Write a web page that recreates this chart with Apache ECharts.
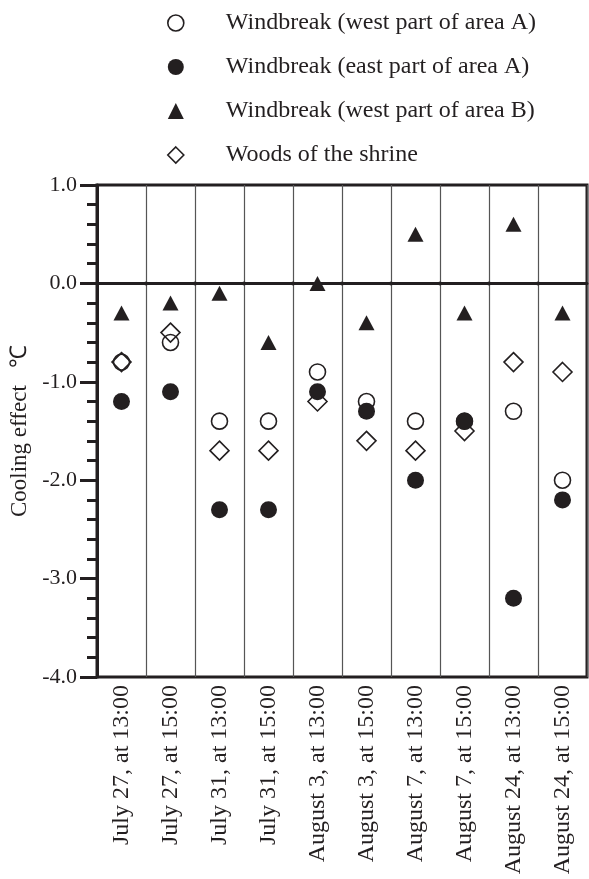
<!DOCTYPE html>
<html>
<head>
<meta charset="utf-8">
<script src="https://cdn.jsdelivr.net/npm/echarts@6/dist/echarts.min.js"></script>
<style>
html,body{margin:0;padding:0;background:#fff;}
#chart{width:589px;height:879px;}
</style>
</head>
<body>
<div id="chart"></div>
<script>
var categories = ["July 27, at 13:00","July 27, at 15:00","July 31, at 13:00","July 31, at 15:00","August 3, at 13:00","August 3, at 15:00","August 7, at 13:00","August 7, at 15:00","August 24, at 13:00","August 24, at 15:00"];
var westA  = [-0.8, -0.6, -1.4, -1.4, -0.9, -1.2, -1.4, -1.4, -1.3, -2.0];
var eastA  = [-1.2, -1.1, -2.3, -2.3, -1.1, -1.3, -2.0, -1.4, -3.2, -2.2];
var westB  = [-0.3, -0.2, -0.1, -0.6, 0.0, -0.4, 0.5, -0.3, 0.6, -0.3];
var shrine = [-0.8, -0.5, -1.7, -1.7, -1.2, -1.6, -1.7, -1.5, -0.8, -0.9];
var seriesNames = ["Windbreak (west part of area A)","Windbreak (east part of area A)","Windbreak (west part of area B)","Woods of the shrine"];
var yMin = -4, yMax = 1, yStep = 1;

var ink = '#231f20';
var serif = "'Liberation Serif','Times New Roman',serif";

var boundaries = [];
for (var i = 0; i <= categories.length; i++) boundaries.push([i, 0]);

var hollow = {color: 'rgba(255,255,255,0)', borderColor: ink, borderWidth: 1.6, opacity: 1};
var solid = {color: ink, borderColor: ink, borderWidth: 0, opacity: 1};

var chart = echarts.init(document.getElementById('chart'));
chart.setOption({
  animation: false,
  backgroundColor: '#fff',
  textStyle: {fontFamily: serif, color: ink},
  legend: {
    orient: 'vertical',
    left: 162,
    top: 6,
    itemWidth: 16,
    itemHeight: 16,
    itemGap: 20,
    textStyle: {fontFamily: serif, fontSize: 24, color: ink, lineHeight: 24, padding: [0, 0, 0, 37]},
    data: [
      {name: seriesNames[0], icon: 'circle', itemStyle: hollow},
      {name: seriesNames[1], icon: 'circle', itemStyle: solid},
      {name: seriesNames[2], icon: 'triangle', itemStyle: solid},
      {name: seriesNames[3], icon: 'diamond', itemStyle: hollow}
    ]
  },
  grid: {left: 97, right: 2, top: 185, bottom: 202, show: true, borderColor: ink, borderWidth: 3, backgroundColor: 'transparent'},
  xAxis: [{
    type: 'category',
    data: categories,
    boundaryGap: true,
    axisLine: {show: true, lineStyle: {color: ink, width: 3}},
    axisTick: {show: false},
    splitLine: {show: true, lineStyle: {color: '#555', width: 1.2}},
    axisLabel: {rotate: 90, interval: 0, margin: 8, fontFamily: serif, fontSize: 24, color: ink}
  }, {
    type: 'value',
    min: 0,
    max: categories.length,
    position: 'top',
    show: false
  }],
  yAxis: {
    type: 'value',
    min: yMin,
    max: yMax,
    interval: yStep,
    name: 'Cooling effect   \u2103',
    nameLocation: 'middle',
    nameGap: 54,
    nameRotate: 90,
    nameTextStyle: {fontFamily: serif, fontSize: 23, color: ink},
    axisLine: {show: true, lineStyle: {color: ink, width: 3}},
    axisTick: {show: true, inside: false, length: 17, lineStyle: {color: ink, width: 3}},
    minorTick: {show: true, splitNumber: 5, length: 10, lineStyle: {color: ink, width: 3}},
    splitLine: {show: false},
    axisLabel: {margin: 20, fontFamily: serif, fontSize: 22, color: ink, formatter: function (v) { return v.toFixed(1); }}
  },
  series: [
    {
      name: 'zero', type: 'line', xAxisIndex: 1, data: boundaries, silent: true, z: 1,
      symbol: 'circle', showSymbol: true,
      symbolSize: function (v) { return (v[0] === 0 || v[0] === categories.length) ? 0 : 4; },
      itemStyle: {color: ink}, lineStyle: {color: ink, width: 1.5}
    },
    {name: seriesNames[0], type: 'scatter', data: westA, symbol: 'circle', symbolSize: 16, z: 2, itemStyle: hollow},
    {name: seriesNames[3], type: 'scatter', data: shrine, symbol: 'diamond', symbolSize: [19, 19], z: 3, itemStyle: hollow},
    {name: seriesNames[1], type: 'scatter', data: eastA, symbol: 'circle', symbolSize: 17, z: 4, itemStyle: solid},
    {name: seriesNames[2], type: 'scatter', data: westB, symbol: 'triangle', symbolSize: [16, 15], z: 5, itemStyle: solid}
  ]
});
</script>
</body>
</html>
